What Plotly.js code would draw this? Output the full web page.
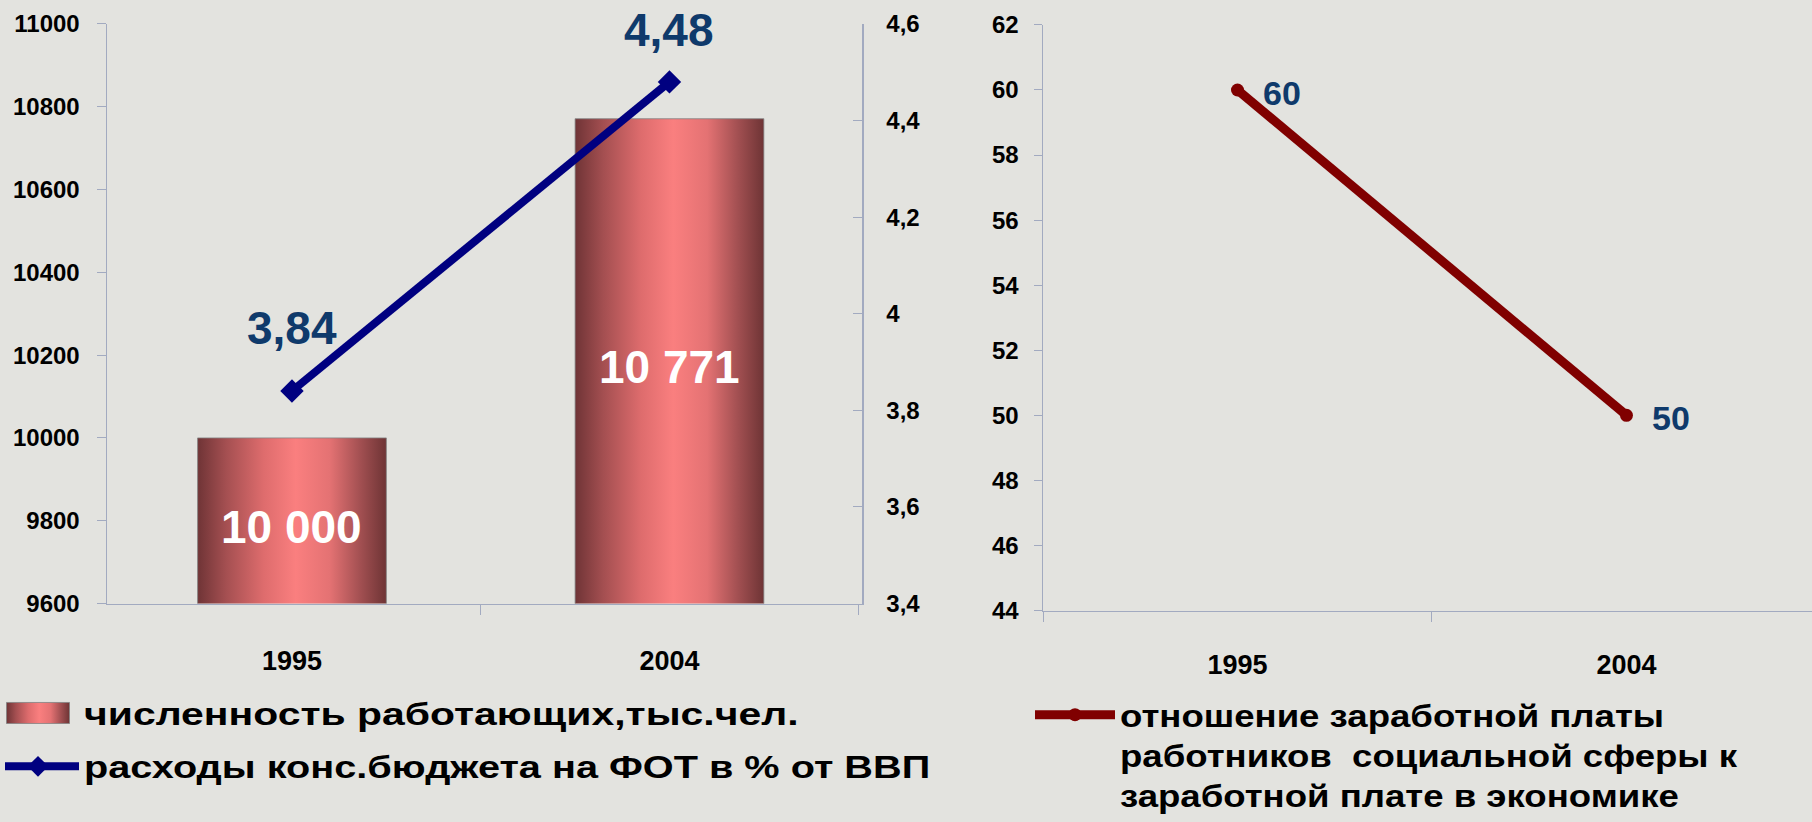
<!DOCTYPE html>
<html>
<head>
<meta charset="utf-8">
<script src="https://cdn.plot.ly/plotly-3.0.1.min.js"></script>
<style>
html, body { margin: 0; padding: 0; background: #e3e3df; }
#chart { width: 1812px; height: 822px; }
</style>
</head>
<body>
<svg width="0" height="0" style="position:absolute">
  <defs>
    <linearGradient id="barGrad" x1="0" y1="0" x2="1" y2="0">
      <stop offset="0" stop-color="#6f3436"/>
      <stop offset="0.15" stop-color="#a44f51"/>
      <stop offset="0.35" stop-color="#de6c6d"/>
      <stop offset="0.52" stop-color="#fa7f7f"/>
      <stop offset="0.70" stop-color="#e47273"/>
      <stop offset="0.86" stop-color="#a35052"/>
      <stop offset="1" stop-color="#6e3435"/>
    </linearGradient>
  </defs>
</svg>
<div id="chart"></div>
<script>
// ---- data ----
const years = ['1995', '2004'];
const workers = [10000, 10771];          // численность работающих, тыс.чел.
const payrollShare = [3.84, 4.48];       // расходы конс.бюджета на ФОТ в % от ВВП
const wageRatio = [60, 50];              // отношение з/п соцсферы к з/п в экономике

const workersName = 'численность работающих,тыс.чел.';
const payrollName = 'расходы конс.бюджета на ФОТ в % от ВВП';
const ratioName = 'отношение заработной платы<br>работников\u00a0 социальной сферы к<br>заработной плате в экономике';

const workersRange = [9600, 11000];
const payrollRange = [3.4, 4.6];
const ratioRange = [44, 62];

// ---- style ----
const FONT = 'Liberation Sans, Arial, sans-serif';
const AXIS_COLOR = '#a2aac0';
const LABEL_COLOR = '#0f3a6b';
const payrollLabelShift = [63, 52];

const W = 1812, H = 822;

function groupThousands(v) {
  return String(Math.round(v)).replace(/\B(?=(\d{3})+(?!\d))/g, ' ');
}

const data = [
  {
    type: 'bar', x: years, y: workers, name: workersName,
    xaxis: 'x', yaxis: 'y', width: 0.5,
    marker: { color: '#e06f70', line: { color: 'rgba(130,130,130,0.8)', width: 1 } },
    legend: 'legend', legendgroup: 'g1', hoverinfo: 'skip'
  },
  {
    type: 'scatter', mode: 'lines+markers', x: years, y: payrollShare, name: payrollName,
    xaxis: 'x', yaxis: 'y2',
    line: { color: '#000080', width: 8 },
    marker: { symbol: 'diamond', size: 18, color: '#000080' },
    legend: 'legend', legendgroup: 'g2', hoverinfo: 'skip'
  },
  {
    type: 'scatter', mode: 'lines+markers', x: years, y: wageRatio, name: ratioName,
    xaxis: 'x2', yaxis: 'y3',
    line: { color: '#800000', width: 9 },
    marker: { symbol: 'circle', size: 13, color: '#800000' },
    legend: 'legend2', hoverinfo: 'skip'
  }
];

const annotations = [];
years.forEach((yr, i) => {
  // bar value, centred in the visible part of the bar
  annotations.push({
    xref: 'x', yref: 'y', x: i, y: (workersRange[0] + workers[i]) / 2,
    text: groupThousands(workers[i]),
    showarrow: false, yshift: -6,
    font: { family: FONT, size: 46, weight: 700, color: '#ffffff' }
  });
  annotations.push({
    xref: 'x', yref: 'y2', x: i, y: payrollShare[i],
    text: payrollShare[i].toFixed(2).replace('.', ','),
    showarrow: false, yshift: payrollLabelShift[i],
    font: { family: FONT, size: 46, weight: 700, color: LABEL_COLOR }
  });
  annotations.push({
    xref: 'x2', yref: 'y3', x: i, y: wageRatio[i],
    text: String(wageRatio[i]),
    showarrow: false, xanchor: 'left', xshift: 24, yshift: -3,
    font: { family: FONT, size: 34, weight: 700, color: LABEL_COLOR }
  });
});

const tickFont = { family: FONT, size: 24, weight: 700, color: '#000000' };
const yearFont = { family: FONT, size: 27, weight: 700, color: '#000000' };

const layout = {
  width: W, height: H,
  margin: { l: 0, r: 0, t: 0, b: 0, pad: 0 },
  paper_bgcolor: '#e3e3df', plot_bgcolor: 'rgba(0,0,0,0)',
  separators: ', ',
  font: { family: FONT, color: '#000000' },
  showlegend: true,
  xaxis: {
    domain: [107 / W, 862 / W], anchor: 'y', type: 'category',
    range: [-0.49, 1.51], tickson: 'boundaries',
    showline: true, linecolor: AXIS_COLOR, linewidth: 1.5,
    ticks: 'outside', ticklen: 10, tickcolor: AXIS_COLOR,
    showgrid: false, zeroline: false,
    tickfont: yearFont, ticklabelstandoff: 33, automargin: false
  },
  yaxis: {
    domain: [1 - 605 / H, 1 - 24 / H], anchor: 'x',
    range: workersRange, dtick: 200, tick0: 9600, tickformat: 'd',
    showline: true, linecolor: AXIS_COLOR, linewidth: 1.5,
    ticks: 'outside', ticklen: 9, tickcolor: AXIS_COLOR,
    showgrid: false, zeroline: false,
    tickfont: tickFont, ticklabelstandoff: 12, automargin: false
  },
  yaxis2: {
    overlaying: 'y', side: 'right', anchor: 'x',
    range: payrollRange, dtick: 0.2, tick0: 3.4,
    showline: true, linecolor: AXIS_COLOR, linewidth: 1.5,
    ticks: 'inside', ticklen: 9, tickcolor: AXIS_COLOR,
    showgrid: false, zeroline: false,
    tickfont: tickFont, ticklabelstandoff: 18, automargin: false
  },
  xaxis2: {
    domain: [1043 / W, 1], anchor: 'y3', type: 'category',
    range: [-0.5, 1.477], tickson: 'boundaries',
    showline: true, linecolor: AXIS_COLOR, linewidth: 1.5,
    ticks: 'outside', ticklen: 10, tickcolor: AXIS_COLOR,
    showgrid: false, zeroline: false,
    tickfont: yearFont, ticklabelstandoff: 30, automargin: false
  },
  yaxis3: {
    domain: [1 - 612 / H, 1 - 25 / H], anchor: 'x2',
    range: ratioRange, dtick: 2, tick0: 44,
    showline: true, linecolor: AXIS_COLOR, linewidth: 1.5,
    ticks: 'outside', ticklen: 8, tickcolor: AXIS_COLOR,
    showgrid: false, zeroline: false,
    tickfont: tickFont, ticklabelstandoff: 10, automargin: false
  },
  legend: {
    x: 0, xanchor: 'left', y: 1 - 688 / H, yanchor: 'top',
    bgcolor: 'rgba(0,0,0,0)', borderwidth: 0,
    font: { family: FONT, size: 31, weight: 700, color: '#000000' },
    itemwidth: 74, tracegroupgap: 10, traceorder: 'grouped'
  },
  legend2: {
    x: 1030 / W, xanchor: 'left', y: 1 - 690 / H, yanchor: 'top',
    bgcolor: 'rgba(0,0,0,0)', borderwidth: 0, valign: 'top',
    font: { family: FONT, size: 31, weight: 700, color: '#000000' },
    itemwidth: 80
  },
  annotations: annotations
};

const gd = document.getElementById('chart');

function tx(p) {
  const m = /translate\(\s*([-\d.]+)/.exec(p.getAttribute('transform') || '');
  return m ? parseFloat(m[1]) : 0;
}

// horizontal stretch of legend texts (the source slide is stretched wide)
function legendStretch(s) {
  if (s.indexOf('численность') >= 0) return { k: 1.32, dx: -4 };
  if (s.indexOf('расходы') >= 0) return { k: 1.28, dx: -4 };
  return { k: 1.18, dx: 0 };
}

const LEGEND_TEXT_SEL = 'text.legendtext, text.legend2text, .legendpoints ~ text, g.traces > text';

function fix() {
  gd.querySelectorAll('.barlayer .point path').forEach(p => { p.style.fill = 'url(#barGrad)'; });
  gd.querySelectorAll('.infolayer [clip-path]').forEach(g => g.removeAttribute('clip-path'));
  const seen = new Set();
  gd.querySelectorAll(LEGEND_TEXT_SEL).forEach(t => {
    if (seen.has(t)) return; seen.add(t);
    if (!t.hasAttribute('data-ot')) t.setAttribute('data-ot', t.getAttribute('transform') || '');
    const ot = t.getAttribute('data-ot');
    const st = legendStretch(t.textContent);
    const x0 = parseFloat(t.getAttribute('x')) || 0;
    t.setAttribute('transform', `${ot} translate(${x0 * (1 - st.k)},0) scale(${st.k},1)`);
  });
  gd.querySelectorAll('.legendpoints path').forEach(p => {
    const cls = p.getAttribute('class') || '';
    const d = p.getAttribute('d') || '';
    const item = p.closest('g.traces');
    const lt = item ? item.querySelector('text') : null;
    const st = legendStretch(lt ? lt.textContent : '');
    if (!p.hasAttribute('data-cx')) {
      const b = p.getBBox(); const t = tx(p);
      p.setAttribute('data-cx', String(t + b.x + b.width / 2));
    }
    const t = tx(p);
    const cx = parseFloat(p.getAttribute('data-cx')) + st.dx;
    if (cls.indexOf('legendbar') >= 0 || /^M6,6H-6V-6H6Z/.test(d) || p.hasAttribute('data-bar')) {
      p.setAttribute('data-bar', '1');
      p.setAttribute('d', `M${cx - t - 31.5},-10.5h63v21h-63Z`);
      p.style.fill = 'url(#barGrad)';
    } else if (cls.indexOf('js-line') >= 0) {
      p.setAttribute('d', `M${cx - t - 36},0h72`);
    } else if (cls.indexOf('scatterpts') >= 0 && st.dx !== 0) {
      if (!p.hasAttribute('data-ot')) p.setAttribute('data-ot', p.getAttribute('transform') || '');
      p.setAttribute('transform', `translate(${st.dx},0) ${p.getAttribute('data-ot')}`);
    }
  });
}

Plotly.newPlot(gd, data, layout, { staticPlot: true, displayModeBar: false }).then(() => {
  fix();
  gd.on('plotly_afterplot', fix);
  setTimeout(fix, 50);
  setTimeout(fix, 300);
});
</script>
</body>
</html>
